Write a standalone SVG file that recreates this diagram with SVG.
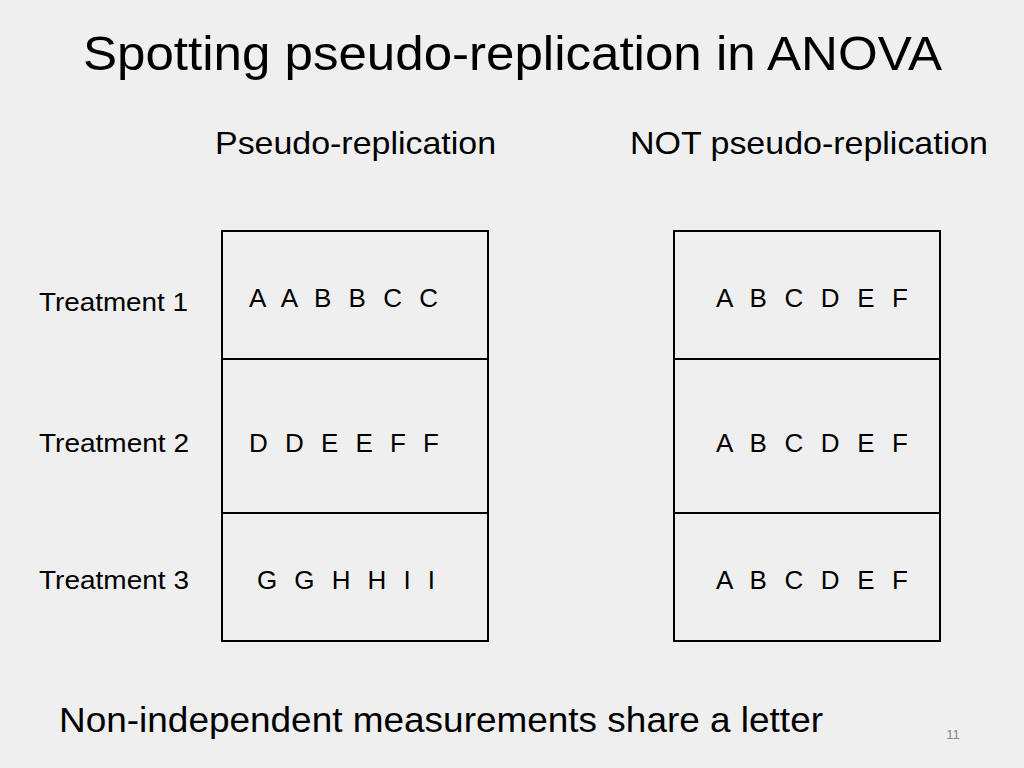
<svg xmlns="http://www.w3.org/2000/svg" width="1024" height="768" viewBox="0 0 1024 768">
<style>
text{font-family:"Liberation Sans",Arial,sans-serif;fill:#000}
.l{font-size:26px;white-space:pre}
.t{font-size:25px}
.b{fill:none;stroke:#000;stroke-width:2}
</style>
<rect width="1024" height="768" fill="#efefef"/>
<text x="83" y="70" font-size="49" textLength="859" lengthAdjust="spacingAndGlyphs">Spotting pseudo-replication in ANOVA</text>
<text x="215" y="154" font-size="32" textLength="281" lengthAdjust="spacingAndGlyphs">Pseudo-replication</text>
<text x="630" y="154" font-size="32" textLength="358" lengthAdjust="spacingAndGlyphs">NOT pseudo-replication</text>
<g id="left">
<rect class="b" x="222" y="231" width="266" height="410"/>
<line class="b" x1="222" y1="359" x2="488" y2="359"/>
<line class="b" x1="222" y1="513" x2="488" y2="513"/>
<text class="l" x="249" y="307" textLength="189" lengthAdjust="spacing">A A B B C C</text>
<text class="l" x="249" y="452" textLength="190" lengthAdjust="spacing">D D E E F F</text>
<text class="l" x="257" y="589" textLength="178" lengthAdjust="spacing">G G H H I I</text>
</g>
<g id="right">
<rect class="b" x="674" y="231" width="266" height="410"/>
<line class="b" x1="674" y1="359" x2="940" y2="359"/>
<line class="b" x1="674" y1="513" x2="940" y2="513"/>
<text class="l" x="716" y="307" textLength="192" lengthAdjust="spacing">A B C D E F</text>
<text class="l" x="716" y="452" textLength="192" lengthAdjust="spacing">A B C D E F</text>
<text class="l" x="716" y="589" textLength="192" lengthAdjust="spacing">A B C D E F</text>
</g>
<text class="t" x="39" y="311" textLength="149" lengthAdjust="spacingAndGlyphs">Treatment 1</text>
<text class="t" x="39" y="452" textLength="150" lengthAdjust="spacingAndGlyphs">Treatment 2</text>
<text class="t" x="39" y="589" textLength="150" lengthAdjust="spacingAndGlyphs">Treatment 3</text>
<text x="59" y="732" font-size="35" textLength="764" lengthAdjust="spacingAndGlyphs">Non-independent measurements share a letter</text>
<text x="953" y="739" font-size="13" style="fill:#888" text-anchor="middle">11</text>
</svg>
